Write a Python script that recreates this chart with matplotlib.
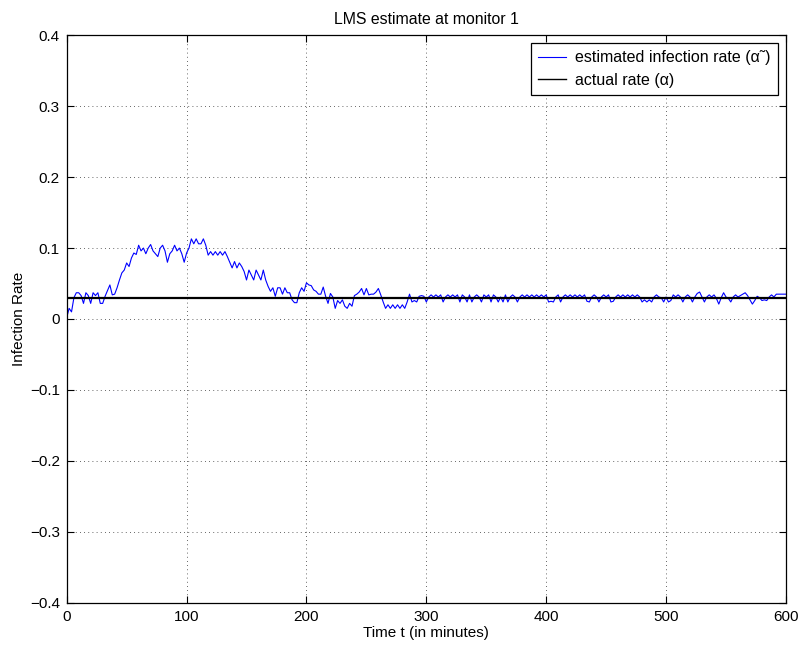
import numpy as np
import matplotlib
matplotlib.use("Agg")
import matplotlib.pyplot as plt

plt.rcParams['font.family'] = ['Liberation Sans', 'DejaVu Sans']
plt.rcParams['font.size'] = 11

# estimated infection rate, sampled every 2 minutes (t = 0 ... 600)
estimated_rate = [
    .002, .015, .010, .030, .037, .037, .033, .022, .037, .033, .022, .037, .033, .037, .022, .022, .032, .040, .048, .034, .035, .044, .055, .065, .069,
    .079, .074, .086, .093, .091, .104, .096, .100, .092, .100, .105, .096, .092, .088, .100, .104, .096, .080, .092, .096, .104, .096, .100, .092, .080,
    .093, .100, .113, .106, .113, .106, .106, .113, .104, .090, .095, .090, .095, .090, .095, .090, .095, .088, .080, .072, .081, .072, .079, .074, .067,
    .055, .069, .062, .055, .069, .062, .055, .069, .055, .046, .039, .044, .032, .044, .044, .035, .044, .037, .037, .027, .023, .023, .037, .044, .039,
    .051, .048, .047, .041, .039, .035, .035, .045, .032, .022, .036, .031, .015, .026, .022, .027, .018, .015, .022, .018, .033, .035, .038, .043, .034,
    .043, .034, .035, .035, .038, .043, .034, .024, .015, .020, .015, .020, .015, .020, .015, .020, .015, .024, .035, .024, .026, .024, .032, .033, .032,
    .024, .031, .034, .031, .034, .031, .034, .024, .031, .034, .031, .034, .031, .034, .024, .034, .031, .024, .034, .024, .031, .034, .031, .024, .034,
    .031, .034, .024, .034, .031, .024, .031, .024, .034, .024, .031, .034, .031, .024, .031, .034, .031, .034, .031, .034, .031, .034, .031, .034, .031,
    .034, .024, .025, .024, .031, .034, .024, .031, .034, .031, .034, .031, .034, .031, .034, .031, .034, .025, .024, .031, .034, .031, .024, .031, .034,
    .031, .034, .024, .025, .031, .034, .031, .034, .031, .034, .031, .034, .031, .034, .031, .024, .027, .024, .027, .024, .031, .034, .031, .030, .024,
    .031, .024, .026, .034, .031, .034, .031, .024, .031, .034, .031, .024, .031, .036, .038, .031, .024, .031, .034, .031, .034, .029, .021, .030, .037,
    .031, .029, .024, .031, .034, .031, .033, .035, .037, .033, .027, .021, .026, .032, .030, .026, .027, .026, .031, .034, .031, .035, .035, .035, .035, .035,
]
time_min = np.arange(0, 601, 2)
actual_rate = 0.03

x_ticks = [0, 100, 200, 300, 400, 500, 600]
y_ticks = [-0.4, -0.3, -0.2, -0.1, 0, 0.1, 0.2, 0.3, 0.4]
y_tick_labels = ['\u22120.4', '\u22120.3', '\u22120.2', '\u22120.1', '0', '0.1', '0.2', '0.3', '0.4']

fig = plt.figure(figsize=(8, 6.5), dpi=100)
ax = fig.add_axes([0.0834, 0.0728, 0.899, 0.8729])

ax.plot(time_min, estimated_rate, color='#0000ff', lw=0.8,
        label='estimated infection rate (\u03b1\u02dc)')
ax.axhline(actual_rate, color='black', lw=1.6, label='actual rate (\u03b1)')

ax.set_xlim(0, 600)
ax.set_ylim(-0.4, 0.4)
ax.set_xticks(x_ticks)
ax.set_yticks(y_ticks)
ax.set_yticklabels(y_tick_labels)
ax.tick_params(direction='in', top=True, right=True, length=5, width=0.8, pad=5)
ax.grid(True, linestyle=(0, (1, 4)), color='black', lw=0.6, alpha=0.8)
for s in ax.spines.values():
    s.set_linewidth(0.9)

ax.set_title('LMS estimate at monitor 1', fontsize=11.4, pad=8)
ax.set_xlabel('Time t (in minutes)', labelpad=2)
ax.set_ylabel('Infection Rate', labelpad=3)

leg = ax.legend(loc='upper right', fancybox=False, framealpha=1, edgecolor='black',
                fontsize=11.5, handlelength=1.8, handletextpad=0.55,
                borderaxespad=0.5, borderpad=0.45, labelspacing=0.45)
leg.get_frame().set_linewidth(0.9)
leg.get_lines()[1].set_linewidth(1.0)

fig.savefig('out.png', dpi=100)
